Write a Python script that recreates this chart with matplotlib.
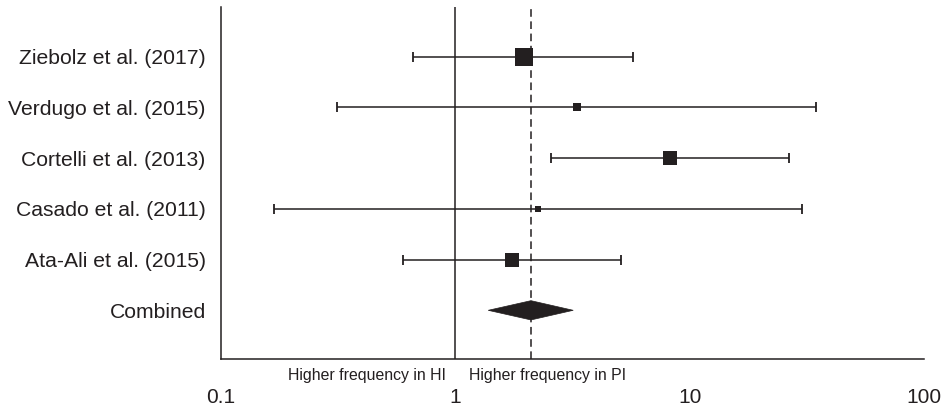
import matplotlib
matplotlib.use("Agg")
import matplotlib.pyplot as plt
from matplotlib.transforms import blended_transform_factory
from matplotlib.patches import Polygon
import numpy as np

plt.rcParams['font.family'] = ['Liberation Sans', 'DejaVu Sans']

studies = ["Ziebolz et al. (2017)", "Verdugo et al. (2015)", "Cortelli et al. (2013)",
           "Casado et al. (2011)", "Ata-Ali et al. (2015)"]
estimates = [1.96, 3.31, 8.23, 2.26, 1.75]
lower = [0.66, 0.313, 2.55, 0.168, 0.60]
upper = [5.74, 34.5, 26.5, 30.1, 5.10]
weights = [12.5, 6.3, 10.1, 5.0, 9.4]  # marker size (pt) reflecting study weight
combined_label = "Combined"
combined_est = 2.10
combined_low = 1.38
combined_high = 3.18
xtick_values = [0.1, 1, 10, 100]
xtick_labels = ["0.1", "1", "10", "100"]
left_note = "Higher frequency in HI"
right_note = "Higher frequency in PI"

col = "#231f20"
W, H = 941, 409
fig = plt.figure(figsize=(W / 100, H / 100), dpi=100)
ax = fig.add_axes([221 / W, (H - 359) / H, (924.3 - 221) / W, (359 - 7) / H])
ax.set_xscale("log")
ax.set_xlim(0.1, 100)
ax.set_ylim(5.96, -0.98)

ys = np.arange(len(studies))
for y, e, lo, hi, s in zip(ys, estimates, lower, upper, weights):
    ax.plot([lo, hi], [y, y], color=col, lw=1.1, solid_capstyle="butt", zorder=2)
    ax.plot([lo, hi], [y, y], linestyle="none", marker="|", ms=6.5, mew=1.3, color=col, zorder=2)
    ax.plot([e], [y], marker="s", ms=s, color=col, mec=col, mew=0, zorder=3)

yc = len(studies)
diamond = Polygon([[combined_low, yc], [combined_est, yc - 0.19], [combined_high, yc],
                   [combined_est, yc + 0.19]], closed=True, facecolor=col, edgecolor=col, lw=0.5, zorder=3)
ax.add_patch(diamond)

ax.axvline(1, color=col, lw=1.1, zorder=1)
ax.axvline(combined_est, color=col, lw=1.1, ls=(0, (5, 3)), zorder=1)

ax.set_yticks(list(ys) + [yc])
ax.set_yticklabels(studies + [combined_label], fontsize=15.2, color=col)
ax.tick_params(axis="y", length=0, pad=11)
ax.set_xticks(xtick_values)
ax.set_xticklabels(xtick_labels, fontsize=15, color=col)
ax.xaxis.set_minor_locator(matplotlib.ticker.NullLocator())
ax.tick_params(axis="x", length=0, pad=21)

for side in ["top", "right"]:
    ax.spines[side].set_visible(False)
for side in ["left", "bottom"]:
    ax.spines[side].set_color(col)
    ax.spines[side].set_linewidth(1.1)

tr = blended_transform_factory(ax.transData, ax.transAxes)
ax.annotate(left_note, xy=(1, 0), xycoords=tr, xytext=(-7, -12), textcoords="offset points",
            ha="right", va="center", fontsize=11.4, color=col)
ax.annotate(right_note, xy=(1, 0), xycoords=tr, xytext=(10, -12), textcoords="offset points",
            ha="left", va="center", fontsize=11.4, color=col)

fig.savefig("out.png", dpi=100)
